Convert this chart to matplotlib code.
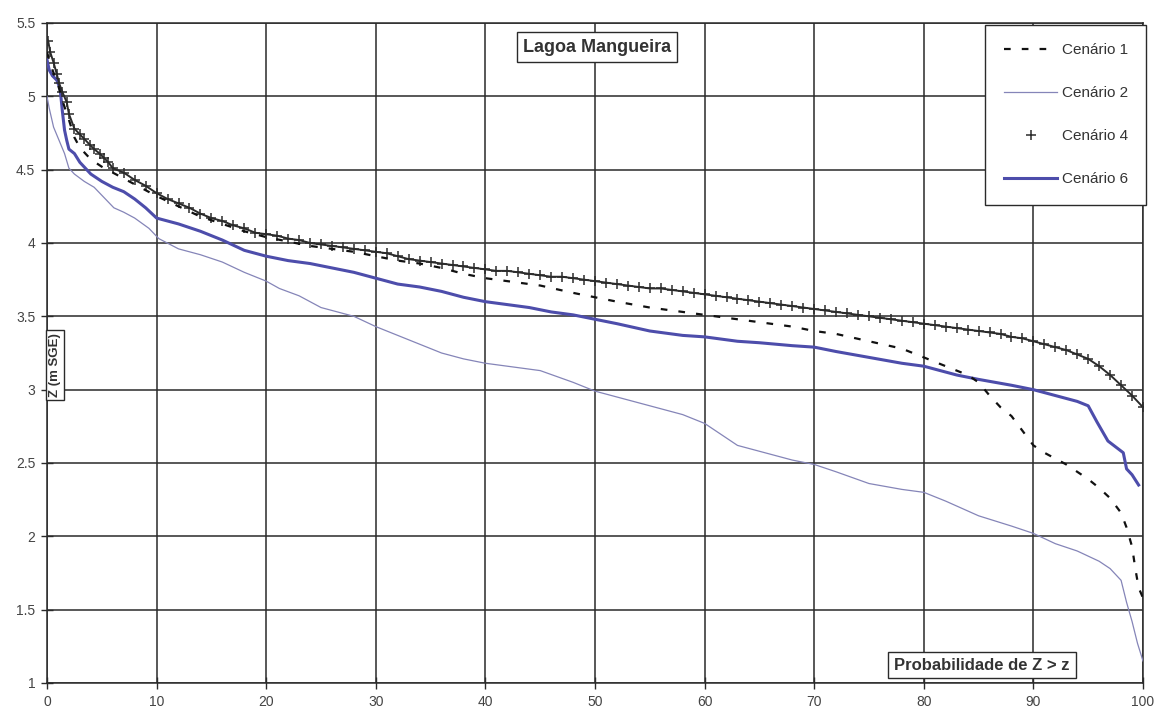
import matplotlib
matplotlib.use("Agg")
import matplotlib.pyplot as plt

plt.rcParams['font.family'] = ['Liberation Sans', 'DejaVu Sans']

# ---------------- data ----------------
x_c1 = [0, 0.5, 1, 1.5, 2, 2.5, 3, 4, 5, 6, 8, 10, 12, 14, 16, 18, 20, 22, 24, 26, 28, 30,
        32, 34, 36, 38, 40, 42, 45, 48, 50, 52, 55, 58, 60, 62, 65, 68, 70, 72, 75, 78, 80,
        82, 84, 85, 86, 87, 88, 89, 90, 91, 92, 93, 94, 95, 96, 97, 98, 98.5, 99, 99.3, 99.6, 100]
z_c1 = [5.30, 5.18, 5.08, 4.95, 4.84, 4.72, 4.65, 4.57, 4.52, 4.48, 4.40, 4.32, 4.25, 4.18,
        4.13, 4.08, 4.04, 4.01, 3.98, 3.96, 3.94, 3.91, 3.88, 3.86, 3.83, 3.79, 3.76, 3.74,
        3.71, 3.66, 3.63, 3.60, 3.56, 3.53, 3.51, 3.49, 3.46, 3.43, 3.40, 3.38, 3.33, 3.28,
        3.22, 3.16, 3.10, 3.05, 2.96, 2.88, 2.82, 2.72, 2.62, 2.57, 2.53, 2.49, 2.44, 2.39,
        2.33, 2.26, 2.16, 2.06, 1.93, 1.78, 1.65, 1.58]

x_c2 = [0, 0.2, 0.6, 1.1, 1.6, 2, 2.5, 3.4, 4.3, 5.2, 6.1, 7, 8, 9.3, 10.2, 12, 14, 16, 18,
        20, 21.2, 23, 25, 27, 28, 30, 32, 34, 36, 38, 40, 42, 45, 48, 50, 52, 55, 58, 60, 62,
        63, 65, 68, 70, 72, 75, 78, 80, 82, 85, 88, 90, 92, 94, 96, 97, 98, 98.5, 99, 99.5, 100]
z_c2 = [5.00, 4.92, 4.79, 4.70, 4.61, 4.51, 4.47, 4.42, 4.38, 4.31, 4.24, 4.21, 4.17, 4.10,
        4.03, 3.96, 3.92, 3.87, 3.80, 3.74, 3.69, 3.64, 3.56, 3.52, 3.50, 3.43, 3.37, 3.31,
        3.25, 3.21, 3.18, 3.16, 3.13, 3.05, 2.99, 2.95, 2.89, 2.83, 2.77, 2.67, 2.62, 2.58,
        2.52, 2.49, 2.44, 2.36, 2.32, 2.30, 2.24, 2.14, 2.07, 2.02, 1.95, 1.90, 1.83, 1.78,
        1.70, 1.55, 1.42, 1.27, 1.15]

x_c4 = [0.1, 0.3, 0.6, 0.9, 1.1, 1.4, 1.8, 2.0, 2.5, 3.0, 3.4, 3.9, 4.3, 4.8, 5.2, 5.6] + \
       list(range(6, 101))
z_c4 = [5.38, 5.30, 5.23, 5.15, 5.09, 5.03, 4.96, 4.88, 4.78, 4.74, 4.71, 4.67, 4.64, 4.61,
        4.58, 4.55,
        4.51, 4.48, 4.43, 4.39, 4.34, 4.30, 4.27, 4.24, 4.20, 4.17, 4.15, 4.12, 4.10, 4.07,
        4.06, 4.05, 4.03, 4.02, 4.00, 3.99, 3.98, 3.97, 3.96, 3.95, 3.94, 3.93, 3.91, 3.89,
        3.88, 3.87, 3.86, 3.85, 3.84, 3.83, 3.82, 3.81, 3.81, 3.80, 3.79, 3.78, 3.77, 3.77,
        3.76, 3.75, 3.74, 3.73, 3.72, 3.71, 3.70, 3.69, 3.69, 3.68, 3.67, 3.66, 3.65, 3.64,
        3.63, 3.62, 3.61, 3.60, 3.59, 3.58, 3.57, 3.56, 3.55, 3.54, 3.53, 3.52, 3.51, 3.50,
        3.49, 3.48, 3.47, 3.46, 3.45, 3.44, 3.43, 3.42, 3.41, 3.40, 3.39, 3.38, 3.36, 3.35,
        3.33, 3.31, 3.29, 3.27, 3.24, 3.21, 3.16, 3.10, 3.03, 2.96, 2.88]

x_c6 = [0, 0.2, 0.5, 0.9, 1.2, 1.4, 1.6, 1.8, 2, 2.5, 3, 4, 5, 6, 7, 8, 9, 10, 12, 14, 16,
        18, 20, 22, 24, 26, 28, 30, 32, 34, 36, 38, 40, 42, 44, 46, 48, 50, 52, 55, 58, 60,
        63, 65, 68, 70, 72, 75, 78, 80, 83, 85, 88, 90, 92, 94, 95, 95.8, 96.8, 98.2, 98.5,
        99, 99.6]
z_c6 = [5.25, 5.18, 5.14, 5.11, 5.05, 4.90, 4.77, 4.70, 4.64, 4.61, 4.55, 4.47, 4.42, 4.38,
        4.35, 4.30, 4.24, 4.17, 4.13, 4.08, 4.02, 3.95, 3.91, 3.88, 3.86, 3.83, 3.80, 3.76,
        3.72, 3.70, 3.67, 3.63, 3.60, 3.58, 3.56, 3.53, 3.51, 3.48, 3.45, 3.40, 3.37, 3.36,
        3.33, 3.32, 3.30, 3.29, 3.26, 3.22, 3.18, 3.16, 3.10, 3.07, 3.03, 3.00, 2.96, 2.92,
        2.89, 2.78, 2.65, 2.57, 2.46, 2.42, 2.35]

labels = ['Cenário 1', 'Cenário 2', 'Cenário 4', 'Cenário 6']
x_ticks = [0, 10, 20, 30, 40, 50, 60, 70, 80, 90, 100]
y_ticks = [1, 1.5, 2, 2.5, 3, 3.5, 4, 4.5, 5, 5.5]
y_ticklabels = ['1', '1.5', '2', '2.5', '3', '3.5', '4', '4.5', '5', '5.5']

# ---------------- figure ----------------
W, H = 1158, 711
fig = plt.figure(figsize=(W / 100, H / 100), dpi=100)
L, R, T, B = 47, 1143, 23, 683
ax = fig.add_axes([L / W, 1 - B / H, (R - L) / W, (B - T) / H])

ax.set_xlim(0, 100)
ax.set_ylim(1, 5.5)
ax.set_xticks(x_ticks)
ax.set_yticks(y_ticks)
ax.set_yticklabels(y_ticklabels)
ax.grid(True, color='#2a2a2a', linewidth=1.1)
ax.set_axisbelow(True)
for s in ax.spines.values():
    s.set_color('#2a2a2a')
    s.set_linewidth(1.1)
ax.tick_params(direction='inout', length=9, width=1.0, color='#2a2a2a',
               labelsize=10, labelcolor='#444444', pad=4)

c_dark = '#2b2b2b'
c_thin = '#8585b8'
c_blue = '#4d4dab'

ax.plot(x_c2, z_c2, color=c_thin, linewidth=0.9, label=labels[1], zorder=3)
ax.plot(x_c6, z_c6, color=c_blue, linewidth=2.2, label=labels[3], zorder=4)
ax.plot(x_c4, z_c4, color=c_dark, linewidth=1.4, zorder=5)
ax.plot(x_c4, z_c4, linestyle='none', marker='+', markersize=6.5, markeredgewidth=1.1,
        color=c_dark, label=labels[2], zorder=5)
ax.plot(x_c1, z_c1, color='#111111', linewidth=1.6, linestyle=(0, (3, 5)),
        label=labels[0], zorder=6)

handles, labs = ax.get_legend_handles_labels()
order = [labs.index(l) for l in labels]
leg = ax.legend([handles[i] for i in order], [labs[i] for i in order],
                loc='upper right', bbox_to_anchor=(1.003, 0.997), fontsize=11,
                frameon=True, fancybox=False, shadow=False, edgecolor='#2a2a2a',
                framealpha=1, labelspacing=1.9, handlelength=3.5, handletextpad=0.3,
                borderpad=1.2, borderaxespad=0)
leg.get_frame().set_linewidth(1.0)
for t in leg.get_texts():
    t.set_color('#333333')
leg.set_zorder(10)

box = dict(boxstyle='square,pad=0.35', facecolor='white', edgecolor='#2a2a2a', linewidth=1.0)
fig.text(597 / W, 1 - 47 / H, 'Lagoa Mangueira', fontsize=13, fontweight='bold',
         color='#333333', ha='center', va='center', bbox=box, zorder=10)
fig.text(982 / W, 1 - 665 / H, 'Probabilidade de Z > z', fontsize=12, fontweight='bold',
         color='#333333', ha='center', va='center', bbox=box, zorder=10)
fig.text(55 / W, 1 - 365 / H, 'Z (m SGE)', fontsize=9.5, fontweight='bold', rotation=90,
         color='#333333', ha='center', va='center',
         bbox=dict(boxstyle='square,pad=0.2', facecolor='white', edgecolor='#2a2a2a',
                   linewidth=1.0), zorder=10)

fig.savefig('out.png', dpi=100)
